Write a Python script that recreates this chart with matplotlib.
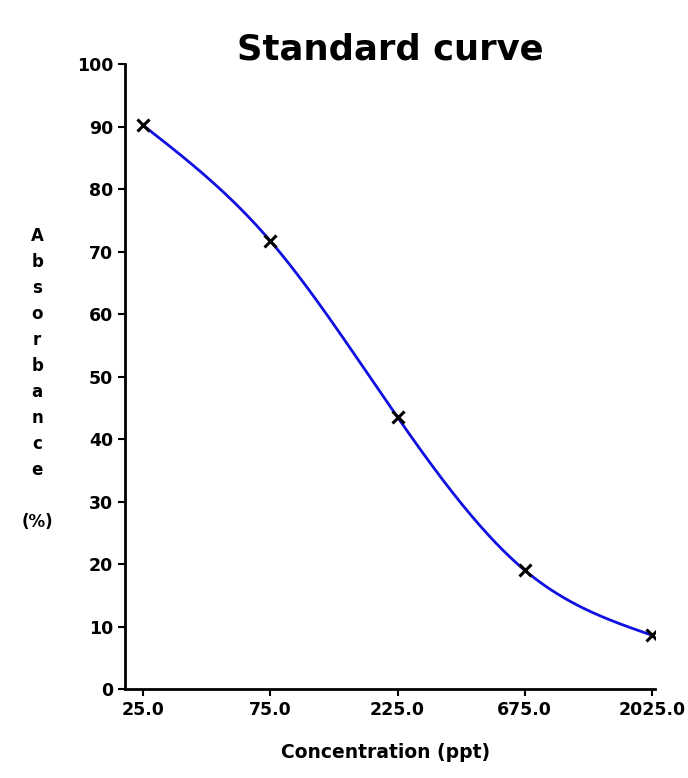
import numpy as np
import matplotlib
matplotlib.use("Agg")
import matplotlib.pyplot as plt

# Standard curve data
conc = [25.0, 75.0, 225.0, 675.0, 2025.0]
absorb = [90.2, 71.7, 43.5, 19.0, 8.6]
xtick_labels = ["25.0", "75.0", "225.0", "675.0", "2025.0"]
yticks = list(range(0, 101, 10))


# natural cubic spline in log10(x) for the smooth line
def smooth(xs, ys, n=300):
    t = np.log10(xs)
    y = np.asarray(ys, float)
    k = len(t)
    h = np.diff(t)
    A = np.zeros((k, k))
    r = np.zeros(k)
    A[0, 0] = A[-1, -1] = 1
    for i in range(1, k - 1):
        A[i, i - 1] = h[i - 1]
        A[i, i] = 2 * (h[i - 1] + h[i])
        A[i, i + 1] = h[i]
        r[i] = 6 * ((y[i + 1] - y[i]) / h[i] - (y[i] - y[i - 1]) / h[i - 1])
    m = np.linalg.solve(A, r)
    tt = np.linspace(t[0], t[-1], n)
    out = np.empty(n)
    for j, v in enumerate(tt):
        i = min(np.searchsorted(t, v, side="right") - 1, k - 2)
        a = (t[i + 1] - v) / h[i]
        b = (v - t[i]) / h[i]
        out[j] = (a * y[i] + b * y[i + 1]
                  + ((a**3 - a) * m[i] + (b**3 - b) * m[i + 1]) * h[i] ** 2 / 6)
    return 10 ** tt, out


plt.rcParams['font.family'] = ['DejaVu Sans']
fig = plt.figure(figsize=(6.88, 7.78), dpi=100)
ax = fig.add_axes([0.1817, 0.1144, 0.7703, 0.8033])

sx, sy = smooth(conc, absorb)
ax.plot(sx, sy, color='#1010e0', linewidth=2)
ax.plot(conc, absorb, 'x', color='black', markersize=9, markeredgewidth=2.2)

ax.set_xscale('log')
ax.set_xlim(25 / 3 ** (18 / 127), 2025 * 3 ** (3 / 127))
ax.set_ylim(0, 100)
ax.set_xticks(conc)
ax.set_xticklabels(xtick_labels)
ax.minorticks_off()
ax.set_yticks(yticks)

for s in ['top', 'right']:
    ax.spines[s].set_visible(False)
for s in ['left', 'bottom']:
    ax.spines[s].set_linewidth(2)
ax.tick_params(axis='both', width=1.5, length=5, labelsize=12.5)
for lab in ax.get_xticklabels() + ax.get_yticklabels():
    lab.set_fontweight('bold')

fig.text(0.567, 0.937, 'Standard curve', ha='center', va='center',
         fontsize=25.5, fontweight='bold')
fig.text(0.56, 0.033, 'Concentration (ppt)', ha='center', va='center',
         fontsize=13.5, fontweight='bold')
fig.text(0.054, 0.513, "A\nb\ns\no\nr\nb\na\nn\nc\ne\n\n(%)", ha='center',
         va='center', fontsize=12, fontweight='bold', linespacing=1.57)

plt.savefig('out.png', dpi=100)
